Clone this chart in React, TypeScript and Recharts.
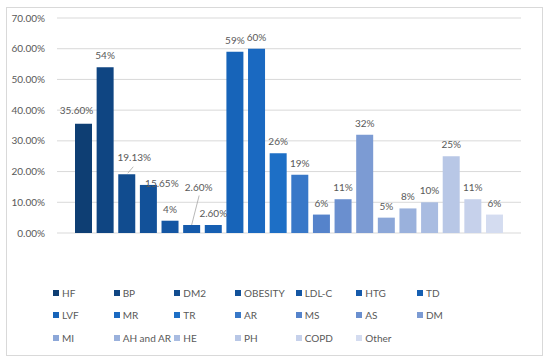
import { Bar, BarChart, CartesianGrid, LabelList, XAxis, YAxis } from "recharts";

// Excel-style greys
const GRID = "#d9d9d9";
const TEXT = "#595959";
const FONT = "Lato, 'Open Sans', sans-serif";

const CATEGORIES = [
  "HF", "BP", "DM2", "OBESITY", "LDL-C", "HTG", "TD",
  "LVF", "MR", "TR", "AR", "MS", "AS", "DM",
  "MI", "AH and AR", "HE", "PH", "COPD", "Other",
];
const VALUES = [35.6, 54, 19.13, 15.65, 4, 2.6, 2.6, 59, 60, 26, 19, 6, 11, 32, 5, 8, 10, 25, 11, 6];
const LABELS = [
  "35.60%", "54%", "19.13%", "15.65%", "4%", "2.60%", "2.60%",
  "59%", "60%", "26%", "19%", "6%", "11%", "32%",
  "5%", "8%", "10%", "25%", "11%", "6%",
];
const Y_TICKS = [0, 10, 20, 30, 40, 50, 60, 70];

const COLORS = [
  "#0e3e73", "#0f4582", "#114c8f", "#125199", "#1456a3", "#155aab", "#165fb2",
  "#1764b9", "#1a69c1", "#1d6fc6", "#3878c8", "#5583cb", "#6a8fcf", "#7c9bd3",
  "#8ca7d8", "#9ab1dc", "#a9bce1", "#b8c7e6", "#c6d1eb", "#d4dcf0",
];

// Hand-placed label nudges (Excel moved a few labels), relative to the default spot above the bar
const NUDGE: Record<string, { dx: number; dy: number; leader?: [number, number, number, number] }> = {
  HF: { dx: -7, dy: -2 },
  DM2: { dx: 7.5, dy: -5.5, leader: [1, -1, 6.5, -7.5] },
  OBESITY: { dx: 13.5, dy: 10.5 },
  HTG: { dx: 7, dy: -26, leader: [0, 0, 7.5, -29.5] },
};

const row: Record<string, number | string> = { name: "" };
CATEGORIES.forEach((c, i) => (row[c] = VALUES[i]));
const data = [row];

function makeLabel(cat: string, text: string) {
  return (props: any) => {
    const x = Number(props.x);
    const y = Number(props.y);
    const w = Number(props.width);
    const cx = x + w / 2;
    const n = NUDGE[cat] ?? { dx: 0, dy: 0 };
    return (
      <g>
        {n.leader && (
          <line
            x1={cx + n.leader[0]}
            y1={y + n.leader[1]}
            x2={cx + n.leader[2]}
            y2={y + n.leader[3]}
            stroke="#a6a6a6"
            strokeWidth={0.8}
          />
        )}
        <text
          x={cx + n.dx}
          y={y - 12 + n.dy}
          textAnchor="middle"
          dominantBaseline="central"
          fontSize={10}
          fill={TEXT}
          fontFamily={FONT}
        >
          {text}
        </text>
      </g>
    );
  };
}

export default function App() {
  return (
    <div
      style={{
        position: "absolute",
        left: 0,
        top: 0,
        width: 550,
        height: 360,
        background: "#fff",
        fontFamily: FONT,
      }}
    >
      <div
        style={{
          position: "absolute",
          left: 6,
          top: 7,
          width: 535,
          height: 347,
          border: `1px solid ${GRID}`,
        }}
      />
      <div style={{ position: "absolute", left: 0, top: 0 }}>
        <BarChart
          width={550}
          height={360}
          data={data}
          margin={{ top: 18, right: 29, bottom: 127, left: 7 }}
          barSize={17}
          barGap={4.63}
        >
          <CartesianGrid vertical={false} stroke={GRID} />
          <XAxis dataKey="name" hide />
          <YAxis
            width={50}
            domain={[0, 70]}
            ticks={Y_TICKS}
            axisLine={false}
            tickLine={false}
            tickMargin={6}
            tick={{ fontSize: 10, fill: TEXT, fontFamily: FONT }}
            tickFormatter={(v: number) => `${v.toFixed(2)}%`}
          />
          {CATEGORIES.map((c, i) => (
            <Bar key={c} dataKey={c} fill={COLORS[i]} isAnimationActive={false}>
              <LabelList dataKey={c} content={makeLabel(c, LABELS[i])} />
            </Bar>
          ))}
        </BarChart>
      </div>
      {CATEGORIES.map((c, i) => {
        const col = i % 7;
        const r = Math.floor(i / 7);
        return (
          <div
            key={c}
            style={{
              position: "absolute",
              left: 53 + col * 60.67,
              top: 292.5 + r * 22.7 - 7,
              height: 14,
              display: "flex",
              alignItems: "center",
              fontSize: 10,
              color: TEXT,
              whiteSpace: "nowrap",
            }}
          >
            <span
              style={{
                display: "inline-block",
                width: 6,
                height: 6,
                background: COLORS[i],
                marginRight: 3,
              }}
            />
            {c}
          </div>
        );
      })}
    </div>
  );
}
